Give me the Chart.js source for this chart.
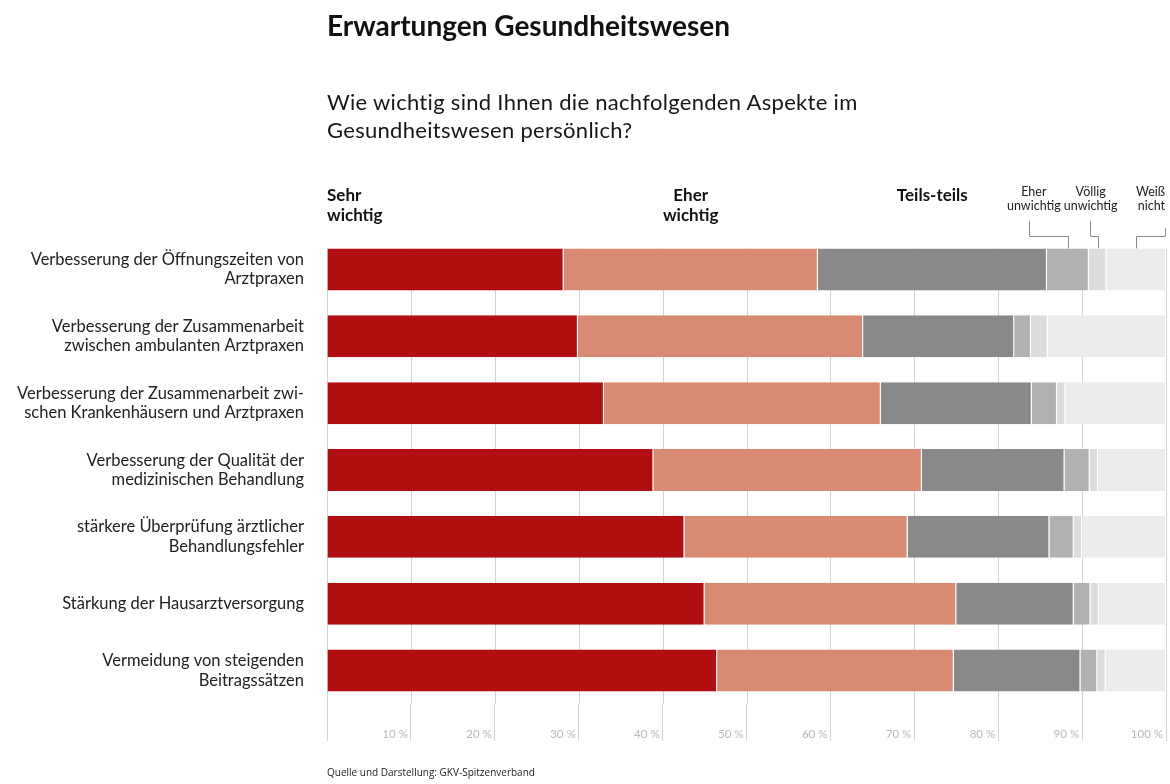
<!DOCTYPE html>
<html lang="de">
<head>
<meta charset="utf-8">
<title>Erwartungen Gesundheitswesen</title>
<script src="https://cdn.jsdelivr.net/npm/chart.js@4.4.1/dist/chart.umd.min.js"></script>
<style>
  html, body { margin: 0; padding: 0; background: #fff; }
  #wrap { position: relative; width: 1170px; height: 784px; overflow: hidden; font-family: Lato, sans-serif; color: #111; }
  #chart { position: absolute; left: 0; top: 0; }
  .title { position: absolute; left: 327px; top: 9px; font-size: 28px; font-weight: 700; line-height: 32px; white-space: nowrap; }
  .subtitle { position: absolute; left: 327px; top: 88px; font-size: 22px; letter-spacing: 0.3px; line-height: 28px; color: #161616; }
  .source { position: absolute; left: 327px; top: 765px; font-family: 'Open Sans', sans-serif; font-size: 10px; line-height: 14px; color: #222; white-space: nowrap; }
</style>
</head>
<body>
<div id="wrap">
  <canvas id="chart" width="1170" height="784"></canvas>
  <div class="title">Erwartungen Gesundheitswesen</div>
  <div class="subtitle">Wie wichtig sind Ihnen die nachfolgenden Aspekte im<br>Gesundheitswesen persönlich?</div>
  <div class="source">Quelle und Darstellung: GKV-Spitzenverband</div>
</div>
<script>
// Aspekte (Zeilen), von oben nach unten
const categories = [
  ['Verbesserung der Öffnungszeiten von', 'Arztpraxen'],
  ['Verbesserung der Zusammenarbeit', 'zwischen ambulanten Arztpraxen'],
  ['Verbesserung der Zusammenarbeit zwi-', 'schen Krankenhäusern und Arztpraxen'],
  ['Verbesserung der Qualität der', 'medizinischen Behandlung'],
  ['stärkere Überprüfung ärztlicher', 'Behandlungsfehler'],
  'Stärkung der Hausarztversorgung',
  ['Vermeidung von steigenden', 'Beitragssätzen']
];

// Anteile in Prozent
const sehrWichtig     = [28.2, 29.9, 33.0, 38.9, 42.6, 45.0, 46.5];
const eherWichtig     = [30.3, 34.0, 33.0, 32.0, 26.6, 30.0, 28.2];
const teilsTeils      = [27.3, 18.0, 18.0, 17.0, 16.9, 14.0, 15.1];
const eherUnwichtig   = [5.0, 2.0, 3.0, 3.0, 2.9, 2.0, 2.0];
const voelligUnwichtig = [2.1, 2.0, 1.0, 1.0, 1.0, 1.0, 1.0];
const weissNicht      = [7.1, 14.1, 12.0, 8.1, 10.0, 8.0, 7.2];

const seriesNames = ['Sehr wichtig', 'Eher wichtig', 'Teils-teils', 'Eher unwichtig', 'Völlig unwichtig', 'Weiß nicht'];
const tickLabels = ['', '10 %', '20 %', '30 %', '40 %', '50 %', '60 %', '70 %', '80 %', '90 %', '100 %'];

const seriesValues = [sehrWichtig, eherWichtig, teilsTeils, eherUnwichtig, voelligUnwichtig, weissNicht];
const seriesColors = ['#b00e11', '#d98a72', '#898989', '#b1b1b1', '#dcdcdc', '#ececec'];

const gridColor = '#d4d4d4';

// vertical grid lines inside the plot, starting at the top of the first bar
const gridPlugin = {
  id: 'barGrid',
  beforeDatasetsDraw(chart) {
    const { ctx, chartArea } = chart;
    const x = chart.scales.x;
    const bar = chart.getDatasetMeta(0).data[0];
    const top = bar.y - bar.height / 2;
    ctx.save();
    ctx.strokeStyle = gridColor;
    ctx.lineWidth = 1;
    x.ticks.forEach(t => {
      const px = Math.round(x.getPixelForValue(t.value)) + 0.5;
      ctx.beginPath();
      ctx.moveTo(px, top);
      ctx.lineTo(px, chartArea.bottom);
      ctx.stroke();
    });
    ctx.restore();
  }
};

// category headings above the first bar, with leader lines for the small segments
const headerPlugin = {
  id: 'headers',
  afterDatasetsDraw(chart) {
    const { ctx } = chart;
    const xs = chart.scales.x;
    const segs = chart.data.datasets.map((d, i) => chart.getDatasetMeta(i).data[0]);
    const mid = s => (s.x + s.base) / 2;
    const barTop = segs[0].y - segs[0].height / 2;

    ctx.save();
    ctx.fillStyle = '#111';
    ctx.textBaseline = 'middle';

    // large headings
    ctx.font = 'bold 17px Lato';
    ctx.textAlign = 'left';
    ctx.fillText('Sehr', xs.left, 196);
    ctx.fillText('wichtig', xs.left, 216);
    ctx.textAlign = 'center';
    ctx.fillText('Eher', mid(segs[1]), 196);
    ctx.fillText('wichtig', mid(segs[1]), 216);
    ctx.fillText('Teils-teils', mid(segs[2]), 196);

    // small headings
    ctx.font = '12.5px Lato';
    ctx.fillStyle = '#222';
    const small = [
      { seg: segs[3], lines: ['Eher', 'unwichtig'], lx: mid(segs[3]) - 34, align: 'center', sx: mid(segs[3]) - 39, sy: 221 },
      { seg: segs[4], lines: ['Völlig', 'unwichtig'], lx: mid(segs[4]) - 7, align: 'center', sx: mid(segs[4]) - 8, sy: 221 },
      { seg: segs[5], lines: ['Weiß', 'nicht'], lx: xs.right - 1, align: 'right', sx: xs.right - 1, sy: 228 }
    ];
    ctx.strokeStyle = '#8a8a8a';
    ctx.lineWidth = 1;
    small.forEach(s => {
      ctx.textAlign = s.align;
      ctx.fillText(s.lines[0], s.lx, 192);
      ctx.fillText(s.lines[1], s.lx, 206);
      const sx = Math.round(s.sx) + 0.5;
      const cx = Math.round(mid(s.seg)) + 0.5;
      ctx.beginPath();
      ctx.moveTo(sx, s.sy);
      ctx.lineTo(sx, 236.5);
      ctx.lineTo(cx, 236.5);
      ctx.lineTo(cx, barTop);
      ctx.stroke();
    });
    ctx.restore();
  }
};

new Chart(document.getElementById('chart'), {
  type: 'bar',
  data: {
    labels: categories,
    datasets: seriesNames.map((name, i) => ({
      label: name,
      data: seriesValues[i],
      backgroundColor: seriesColors[i],
      borderColor: '#ffffff',
      borderWidth: { top: 0, bottom: 0, left: 0, right: 1 },
      borderSkipped: false,
      barPercentage: 0.628,
      categoryPercentage: 1
    }))
  },
  options: {
    indexAxis: 'y',
    responsive: false,
    animation: false,
    layout: { padding: { top: 236, right: 4, bottom: 40, left: 0 } },
    plugins: {
      legend: { display: false },
      tooltip: { enabled: false }
    },
    scales: {
      x: {
        stacked: true,
        min: 0,
        max: 100,
        border: { display: false },
        grid: { drawOnChartArea: false, drawTicks: true, tickLength: 37, color: gridColor },
        ticks: {
          stepSize: 10,
          autoSkip: false,
          maxRotation: 0,
          align: 'end',
          labelOffset: -3,
          padding: -14,
          color: '#b8b8b8',
          font: { family: 'Lato', size: 11.5 },
          callback: (v, i) => tickLabels[i]
        },
        afterFit: s => { s.height = 40; }
      },
      y: {
        stacked: true,
        border: { display: false },
        grid: { display: false, drawTicks: false },
        ticks: {
          padding: 23,
          color: '#222',
          font: { family: 'Lato', size: 16.5, lineHeight: 1.18 }
        },
        afterFit: s => { s.width = 327; }
      }
    }
  },
  plugins: [gridPlugin, headerPlugin]
});
</script>
</body>
</html>
